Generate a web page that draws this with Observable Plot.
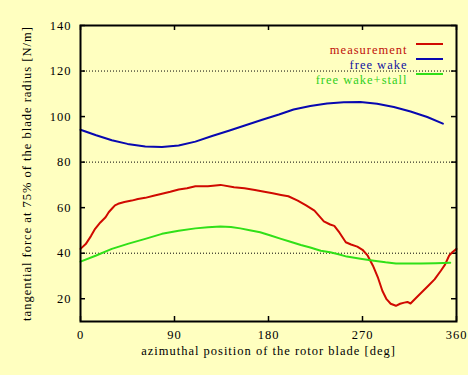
<!DOCTYPE html>
<html>
<head>
<meta charset="utf-8">
<script src="https://cdn.jsdelivr.net/npm/d3@7"></script>
<script src="https://cdn.jsdelivr.net/npm/@observablehq/plot@0.6"></script>
<style>
  html, body { margin: 0; padding: 0; background: #ffffc0; }
  #chart svg { background: #ffffc0; display: block; }
</style>
</head>
<body>
<div id="chart"></div>
<script>
// ---- data ----
const seriesNames = ["measurement", "free wake", "free wake+stall"];

const measurementDeg = [0, 5, 10, 14, 19, 24, 27, 30, 33, 36, 42, 49, 55, 62, 70, 78, 86, 94, 102, 110, 122, 134, 147, 157, 167, 176, 184, 192, 199, 208, 216, 224, 233, 239, 243, 248, 254, 259, 265, 270, 275, 280, 285, 289, 293, 297, 302, 306, 310, 313, 316, 320, 326, 333, 339, 345, 349, 353, 356, 360];
const measurementVal = [41.9, 44.0, 47.5, 50.7, 53.5, 55.8, 58.0, 59.5, 61.0, 61.7, 62.5, 63.1, 63.8, 64.3, 65.2, 66.1, 67.0, 68.0, 68.5, 69.4, 69.4, 70.0, 69.0, 68.5, 67.8, 67.0, 66.3, 65.6, 65.0, 63.1, 61.0, 58.7, 54.0, 52.6, 52.0, 49.0, 44.8, 43.8, 42.9, 41.5, 38.9, 34.5, 29.0, 23.5, 19.8, 17.8, 16.9, 17.8, 18.3, 18.6, 17.9, 19.8, 22.5, 25.7, 28.5, 32.3, 35.0, 39.0, 40.4, 41.9];

const freeWakeDeg = [0, 15, 30, 45, 62, 78, 94, 110, 126, 142, 158, 174, 190, 204, 220, 236, 252, 268, 284, 300, 316, 332, 347];
const freeWakeVal = [94.2, 91.8, 89.6, 88.0, 86.9, 86.6, 87.3, 89.0, 91.5, 93.8, 96.2, 98.6, 100.9, 103.1, 104.6, 105.7, 106.3, 106.4, 105.6, 104.2, 102.2, 99.8, 96.9];

const stallDeg = [0, 15, 30, 46, 62, 78, 94, 110, 122, 134, 144, 153, 162, 172, 182, 192, 201, 211, 220, 230, 239, 247, 255, 268, 281, 292, 302, 314, 326, 340, 354];
const stallVal = [36.3, 39.0, 41.9, 44.2, 46.3, 48.5, 49.9, 50.9, 51.4, 51.7, 51.5, 50.9, 50.1, 49.2, 47.8, 46.3, 45.0, 43.6, 42.5, 41.1, 40.4, 39.5, 38.5, 37.6, 36.7, 36.0, 35.5, 35.5, 35.5, 35.6, 35.8];

const xTicks = [0, 90, 180, 270, 360];
const yTicks = [20, 40, 60, 80, 100, 120, 140];
const gridY = [40, 80, 120];

const xLabel = "azimuthal position of the rotor blade [deg]";
const yLabel = "tangential force at 75% of the blade radius [N/m]";

// ---- build ----
const colors = ["#d00a00", "#0808b0", "#30e018"];
const textColors = ["#c01008", "#1010a0", "#30d020"];
const rows = [];
measurementDeg.forEach((d, i) => rows.push({series: seriesNames[0], deg: d, v: measurementVal[i]}));
freeWakeDeg.forEach((d, i) => rows.push({series: seriesNames[1], deg: d, v: freeWakeVal[i]}));
stallDeg.forEach((d, i) => rows.push({series: seriesNames[2], deg: d, v: stallVal[i]}));

const W = 468, H = 375, mL = 80, mR = 12, mT = 25, mB = 54;
const pw = W - mL - mR, ph = H - mT - mB;
const font = "'Liberation Serif', 'Times New Roman', serif";

const plot = Plot.plot({
  width: W,
  height: H,
  marginLeft: mL,
  marginRight: mR,
  marginTop: mT,
  marginBottom: mB,
  style: {background: "#ffffc0", fontFamily: font, fontSize: "12.5px", color: "#000", letterSpacing: "1px"},
  x: {domain: [0, 360], ticks: xTicks},
  y: {domain: [10, 140], ticks: yTicks},
  color: {domain: seriesNames, range: colors},
  marks: [
    Plot.ruleY(gridY, {stroke: "#000", strokeWidth: 1, strokeDasharray: "1,2"}),
    Plot.axisX(xTicks, {tickSize: 0, tickPadding: 9, label: null, fill: "#000"}),
    Plot.axisY(yTicks, {tickSize: 0, tickPadding: 9, label: null, fill: "#000"}),
    // inward ticks on all four sides
    Plot.tickY(yTicks, {y: d => d, insetRight: pw - 5, stroke: "#000", strokeWidth: 1.5}),
    Plot.tickY(yTicks, {y: d => d, insetLeft: pw - 5, stroke: "#000", strokeWidth: 1.5}),
    Plot.tickX(xTicks, {x: d => d, insetTop: ph - 5, stroke: "#000", strokeWidth: 1.5}),
    Plot.tickX(xTicks, {x: d => d, insetBottom: ph - 5, stroke: "#000", strokeWidth: 1.5}),
    Plot.line(rows, {x: "deg", y: "v", z: "series", stroke: "series", strokeWidth: 2}),
    Plot.frame({stroke: "#000", strokeWidth: 2}),
    // axis titles
    Plot.text([xLabel], {frameAnchor: "bottom", dy: 33, text: d => d, fill: "#000", fontSize: 12.5}),
    Plot.text([yLabel], {frameAnchor: "left", rotate: -90, dx: -54, textAnchor: "middle", text: d => d, fill: "#000", fontSize: 12.5}),
    // legend text
    ...seriesNames.map((name, i) =>
      Plot.text([name], {frameAnchor: "top-right", dx: -49, dy: 20 + i * 15, textAnchor: "end", text: d => d, fill: textColors[i], fontSize: 12.5})
    )
  ]
});

document.getElementById("chart").appendChild(plot);

// legend sample lines
const svg = d3.select(plot);
seriesNames.forEach((name, i) => {
  svg.append("line")
    .attr("x1", W - mR - 40).attr("x2", W - mR - 13)
    .attr("y1", mT + 19 + i * 15).attr("y2", mT + 19 + i * 15)
    .attr("stroke", colors[i]).attr("stroke-width", 2);
});
</script>
</body>
</html>
